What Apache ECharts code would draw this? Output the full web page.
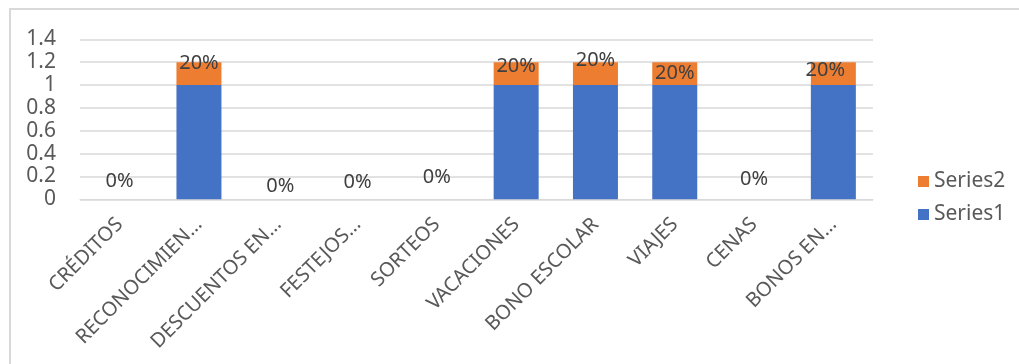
<!DOCTYPE html>
<html>
<head>
<meta charset="utf-8">
<script src="https://cdn.jsdelivr.net/npm/echarts@6/dist/echarts.min.js"></script>
<style>
html,body{margin:0;padding:0;background:#fff;}
#c{width:1019px;height:364px;}
</style>
</head>
<body>
<div id="c"></div>
<script>
const categories = ['CRÉDITOS','RECONOCIMIEN…','DESCUENTOS EN…','FESTEJOS…','SORTEOS','VACACIONES','BONO ESCOLAR','VIAJES','CENAS','BONOS EN…'];
const series1 = [0, 1, 0, 0, 0, 1, 1, 1, 0, 1];
const series2 = [0, 0.2, 0, 0, 0, 0.2, 0.2, 0.2, 0, 0.2];
const yTicks = {min: 0, max: 1.4, interval: 0.2};

// label layout (manually placed labels in the reference)
const labelOffsets = [[0,-18],[0,-10],[2,-13],[0,-17],[0,-22],[0,-7],[0,-13],[0,0],[0,-20],[-8,-3]];

const textColor = '#595959';
const font = 'Noto Sans';

const chart = echarts.init(document.getElementById('c'), null, {renderer: 'canvas'});
chart.setOption({
  animation: false,
  backgroundColor: '#fff',
  graphic: [{
    type: 'rect', silent: true, z: -1,
    shape: {x: 10, y: 9, width: 1100, height: 400},
    style: {fill: 'none', stroke: '#D9D9D9', lineWidth: 2}
  }],
  grid: {left: 80, right: 146, top: 39.3, bottom: 164.7, containLabel: false},
  legend: {
    orient: 'vertical', left: 913, top: 166,
    data: ['Series2', 'Series1'],
    itemWidth: 11, itemHeight: 11, itemGap: 12,
    icon: 'rect',
    textStyle: {color: textColor, fontSize: 21, fontFamily: font}
  },
  xAxis: {
    type: 'category', data: categories,
    axisLine: {show: true, lineStyle: {color: '#D9D9D9', width: 1}},
    axisTick: {show: false},
    axisLabel: {interval: 0, rotate: 45, color: textColor, fontSize: 20, fontFamily: font, margin: 22}
  },
  yAxis: {
    type: 'value', min: yTicks.min, max: yTicks.max, interval: yTicks.interval,
    axisLine: {show: false}, axisTick: {show: false},
    splitLine: {lineStyle: {color: '#D9D9D9', width: 1.5}},
    axisLabel: {color: textColor, fontSize: 21, fontFamily: font, margin: 24}
  },
  series: [
    {
      name: 'Series1', type: 'bar', stack: 'a', barWidth: 45,
      itemStyle: {color: '#4472C4'},
      data: series1
    },
    {
      name: 'Series2', type: 'bar', stack: 'a', barWidth: 45,
      itemStyle: {color: '#ED7D31'},
      label: {
        show: true, position: 'inside', color: '#404040', fontSize: 20, fontFamily: font,
        formatter: p => Math.round(p.value * 100) + '%'
      },
      data: series2.map((v, i) => ({value: v, label: {offset: labelOffsets[i]}}))
    }
  ]
});
</script>
</body>
</html>
